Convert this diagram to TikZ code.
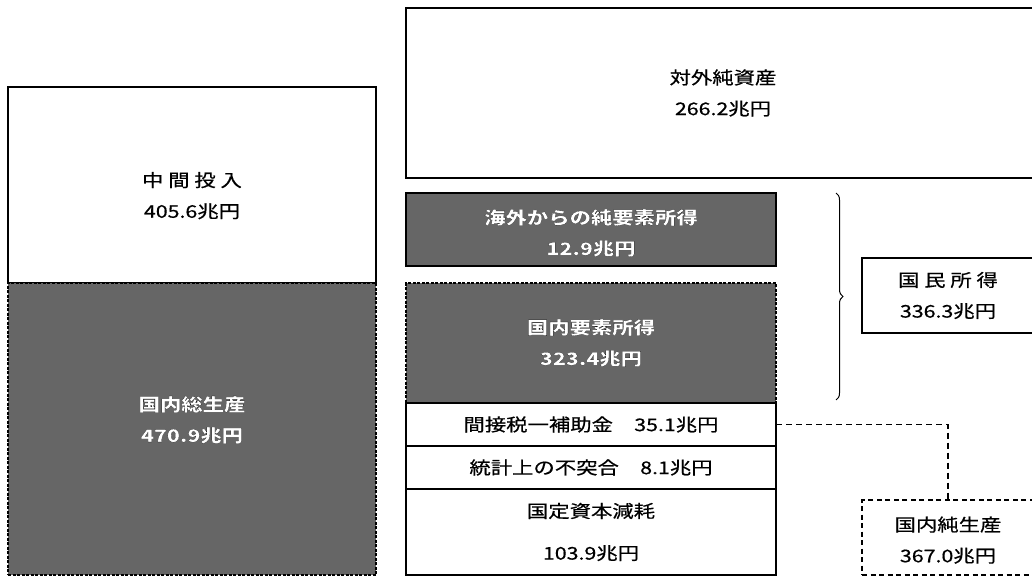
\documentclass[tikz,border=0pt]{standalone}
\usepackage{fontspec}
\usetikzlibrary{decorations.pathreplacing}
\newfontfamily\jp[FakeStretch=1.22,FakeBold=0.6]{Noto Sans CJK JP}
\newcommand\outl[1]{\special{pdf:literal direct 2 Tr 1.0 w 0 G}#1\special{pdf:literal direct 0 Tr}}
\tikzset{
  box/.style={draw=black, line width=1.2pt, inner sep=0pt, outer sep=0pt,
    anchor=north west, align=center, fill=white,
    font=\jp\fontsize{17.5}{31}\selectfont},
  dark/.style={fill=black!60, text=white, font=\jp\bfseries\fontsize{17.5}{31}\selectfont},
  fine dash/.style={dash pattern=on 3pt off 1.5pt},
  link/.style={line width=1.6pt, dash pattern=on 6pt off 4pt},
}
\begin{document}
\begin{tikzpicture}[x=1pt,y=-1pt]
\useasboundingbox (0,0) rectangle (1032,577);
\clip (0,0) rectangle (1032,577);
% left column
\node[box, minimum width=368pt, minimum height=196pt] (mid) at (8,87) {\rule{0pt}{36pt}中 間 投 入\\405.6兆円};
\node[box, dark, fine dash, minimum width=368pt, minimum height=292pt] (gdp) at (8,283) {\outl{国内総生産}\\\rule[-20pt]{0pt}{1pt}\outl{470.9兆円}};
% middle column
\node[box, minimum width=634pt, minimum height=170pt] (nfa) at (406,8) {対外純資産\\266.2兆円};
\node[box, dark, minimum width=370pt, minimum height=73pt] (nfi) at (406,193) {\rule{0pt}{22pt}\outl{海外からの純要素所得}\\\outl{12.9兆円}};
\node[box, dark, fine dash, minimum width=370pt, minimum height=120pt] (dfi) at (406,283) {\outl{国内要素所得}\\\outl{323.4兆円}};
\node[box, minimum width=370pt, minimum height=43pt] (tax) at (406,403) {間接税一補助金　35.1兆円};
\node[box, minimum width=370pt, minimum height=43pt] (disc) at (406,446) {統計上の不突合　8.1兆円};
\node[box, minimum width=370pt, minimum height=86pt, font=\jp\fontsize{17.5}{42}\selectfont] (dep) at (406,489) {国定資本減耗\\103.9兆円};
% right column
\node[box, minimum width=172pt, minimum height=75pt] (ni) at (862,258) {国 民 所 得\\336.3兆円};
\node[box, line width=1.5pt, dash pattern=on 5pt off 3.5pt, minimum width=172pt, minimum height=75pt] (nnp) at (862,500) {\rule{0pt}{20pt}国内純生産\\367.0兆円};
% brace
\coordinate (bt) at (836,193);
\coordinate (bb) at (836,400);
\draw[line width=1pt, decorate, decoration={brace, amplitude=7pt}] (bt) -- (bb);
% connector
\draw[link] (tax.east) -| (nnp.north);
\end{tikzpicture}
\end{document}
